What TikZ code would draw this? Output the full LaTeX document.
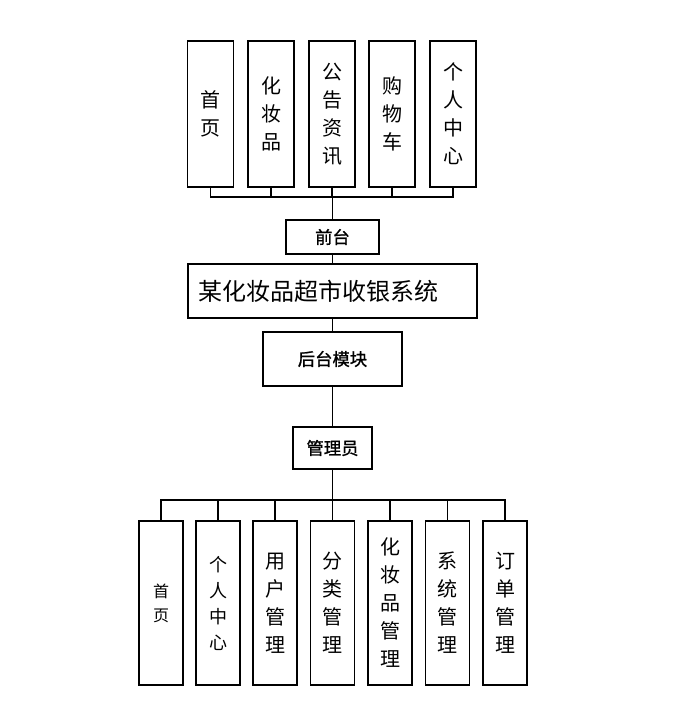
\documentclass[tikz,border=0pt]{standalone}
\usepackage{fontspec}
\newfontfamily\cjk{Noto Sans CJK SC}
\newfontfamily\cjkmid[FakeBold=1.2]{Noto Sans CJK SC}
\usetikzlibrary{positioning}

\tikzset{
  tallbox/.style={draw, line width=1pt, minimum width=34.5pt, minimum height=109.5pt,
    inner sep=0pt, align=center, font=\cjk\fontsize{15}{21}\selectfont},
  lowbox/.style={tallbox, minimum width=33pt, minimum height=123pt},
  midbox/.style={draw, line width=1pt, inner sep=0pt, font=\cjkmid\fontsize{13}{15}\selectfont},
  link/.style={line width=0.9pt},
  trunk/.style={line width=1.3pt}
}

\begin{document}
\begin{tikzpicture}[x=0.75pt, y=-0.75pt, thick]
  \useasboundingbox (0,0) rectangle (682,713);

  % Front modules
  \node[tallbox] (t1) at (210.5,114) {首\\页};
  \node[tallbox] (t2) at (271,114) {化\\妆\\品};
  \node[tallbox] (t3) at (332,114) {公\\告\\资\\讯};
  \node[tallbox] (t4) at (392,114) {购\\物\\车};
  \node[tallbox] (t5) at (453,114) {个\\人\\中\\心};

  % Middle chain
  \node[midbox, minimum width=69.75pt, minimum height=25.5pt] (front) at (332.5,237) {前台};
  \node[draw, line width=1pt, minimum height=40.5pt, text width=201.75pt, inner xsep=7.5pt,
    align=left, font=\cjk\fontsize{18}{22}\selectfont] (sys) at (332.5,291) {某化妆品超市收银系统};
  \node[midbox, minimum width=104.25pt, minimum height=40.5pt] (back) at (332.5,359) {后台模块};
  \node[midbox, minimum width=59.25pt, minimum height=31.5pt] (admin) at (332.5,448) {管理员};

  % Back modules
  \node[lowbox, font=\cjk\fontsize{12}{18}\selectfont] (b1) at (161,603) {首\\页};
  \node[lowbox, font=\cjk\fontsize{13.5}{19.5}\selectfont] (b2) at (218,603) {个\\人\\中\\心};
  \node[lowbox] (b3) at (275,603) {用\\户\\管\\理};
  \node[lowbox] (b4) at (332.5,603) {分\\类\\管\\理};
  \node[lowbox] (b5) at (390,603) {化\\妆\\品\\管\\理};
  \node[lowbox] (b6) at (447.5,603) {系\\统\\管\\理};
  \node[lowbox] (b7) at (505,603) {订\\单\\管\\理};

  % Connectors
  \coordinate (tbus) at (332.5,197);
  \coordinate (bbus) at (332.5,500);
  \foreach \i in {1,...,5} \draw[link] (t\i.south) |- (tbus);
  \draw[trunk] (tbus) -- (front.north);
  \draw[link] (front.south) -- (sys.north);
  \draw[link] (sys.south) -- (back.north);
  \draw[trunk] (back.south) -- (admin.north);
  \draw[trunk] (admin.south) -- (bbus);
  \foreach \i in {1,...,7} \draw[link] (b\i.north) |- (bbus);

\end{tikzpicture}
\end{document}
